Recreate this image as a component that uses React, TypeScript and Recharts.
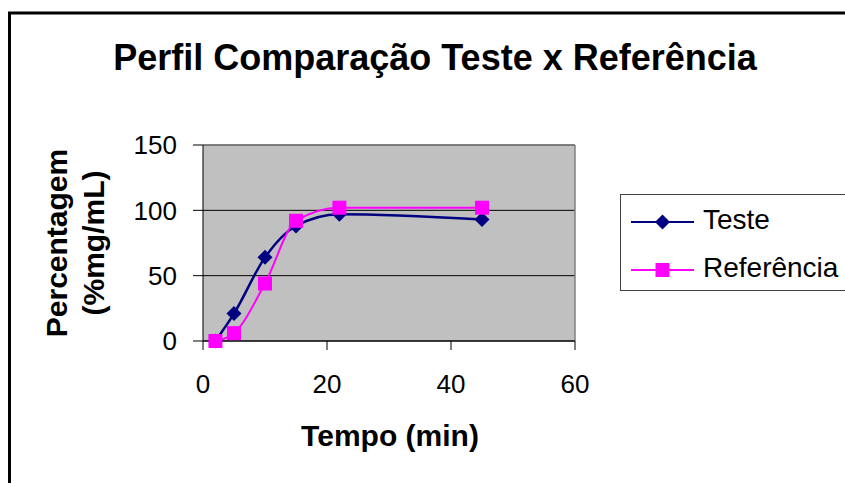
import {
  CartesianGrid, Legend, Line, LineChart, ReferenceLine, XAxis, YAxis,
} from 'recharts';

// dissolution profile: % dissolved per sampling time (min)
const tempos = [2, 5, 10, 15, 22, 45];
const teste = [0, 21, 64, 88, 97, 93];
const referencia = [0, 6, 44, 92, 102, 102];
const xTicks = [0, 20, 40, 60];
const yTicks = [0, 50, 100, 150];
const seriesOrder = ['teste', 'referencia'];

const data = tempos.map((t, i) => ({ t, teste: teste[i], referencia: referencia[i] }));

const FONT = '"Liberation Sans", Arial, Helvetica, sans-serif';
const NAVY = '#000080';
const MAGENTA = '#FF00FF';

function diamondPath(cx: number, cy: number, r: number) {
  return `M${cx},${cy - r}L${cx + r},${cy}L${cx},${cy + r}L${cx - r},${cy}Z`;
}

function DiamondDot(props: any) {
  const { cx, cy, index } = props;
  if (cx == null || cy == null) return <g key={`dd-${index}`} />;
  return <path key={`dd-${index}`} d={diamondPath(cx, cy, 7.5)} fill={NAVY} />;
}

function SquareDot(props: any) {
  const { cx, cy, index } = props;
  if (cx == null || cy == null) return <g key={`sd-${index}`} />;
  return <rect key={`sd-${index}`} x={cx - 7} y={cy - 7} width={14} height={14} fill={MAGENTA} />;
}

function SeriesKey({ payload }: any) {
  const items = [...(payload ?? [])].sort(
    (a: any, b: any) => seriesOrder.indexOf(a.dataKey) - seriesOrder.indexOf(b.dataKey),
  );
  return (
    <div
      style={{
        width: 225, height: 97, boxSizing: 'border-box', background: '#fff',
        borderTop: '1.5px solid #404040', borderLeft: '1.5px solid #404040',
        borderBottom: '1.5px solid #404040',
      }}
    >
      <svg width={223} height={94} style={{ display: 'block' }}>
        {items.map((e: any, i: number) => {
          const y = 27 + i * 48;
          return (
            <g key={e.value}>
              <line x1={10} x2={73} y1={y} y2={y} stroke={e.color} strokeWidth={2} />
              {e.dataKey === 'teste'
                ? <path d={diamondPath(41.5, y, 7.5)} fill={NAVY} />
                : <rect x={34.5} y={y - 7} width={14} height={14} fill={MAGENTA} />}
              <text x={82} y={y + 7} fontSize={28} fontFamily={FONT} fill="#000">{e.value}</text>
            </g>
          );
        })}
      </svg>
    </div>
  );
}

export default function App() {
  return (
    <div style={{ position: 'absolute', left: 0, top: 0, width: 845, height: 483, background: '#fff', fontFamily: FONT }}>
      <LineChart
        width={845}
        height={483}
        data={data}
        margin={{ top: 145, right: 270, bottom: 0, left: 0 }}
        style={{ fontFamily: FONT }}
      >
        <CartesianGrid vertical={false} fill="#C0C0C0" stroke="#000" strokeWidth={1} />
        <XAxis
          dataKey="t"
          type="number"
          domain={[0, 60]}
          ticks={xTicks}
          height={142}
          tickSize={9}
          tickMargin={25}
          stroke="#000"
          tick={{ fontSize: 26, fill: '#000', fontFamily: FONT }}
          interval={0}
        />
        <YAxis
          type="number"
          domain={[0, 150]}
          ticks={yTicks}
          width={203}
          tickSize={10}
          tickMargin={16}
          stroke="#000"
          tick={{ fontSize: 26, fill: '#000', fontFamily: FONT }}
          interval={0}
        />
        <ReferenceLine y={150} stroke="#808080" strokeWidth={1.5} />
        <ReferenceLine x={60} stroke="#808080" strokeWidth={1.5} />
        <Legend
          layout="horizontal"
          verticalAlign="middle"
          align="center"
          content={<SeriesKey />}
          wrapperStyle={{ position: 'absolute', left: 620, top: 194, width: 225, height: 97 }}
        />
        <Line
          type="monotone"
          dataKey="teste"
          name="Teste"
          stroke={NAVY}
          strokeWidth={2.5}
          dot={DiamondDot}
          activeDot={false}
          isAnimationActive={false}
        />
        <Line
          type="monotone"
          dataKey="referencia"
          name="Referência"
          stroke={MAGENTA}
          strokeWidth={2}
          dot={SquareDot}
          activeDot={false}
          isAnimationActive={false}
        />
      </LineChart>

      {/* titles and chart frame */}
      <svg
        width={845}
        height={483}
        style={{ position: 'absolute', left: 0, top: 0, pointerEvents: 'none' }}
      >
        <line x1={9.5} y1={12} x2={9.5} y2={483} stroke="#000" strokeWidth={3} />
        <line x1={8} y1={13} x2={845} y2={13} stroke="#000" strokeWidth={3} />
        <text x={435} y={70} textAnchor="middle" fontSize={36} fontWeight="bold" fontFamily={FONT} fill="#000">
          Perfil Comparação Teste x Referência
        </text>
        <text x={390} y={446} textAnchor="middle" fontSize={30} fontWeight="bold" fontFamily={FONT} fill="#000">
          Tempo (min)
        </text>
        <text
          transform="translate(67,243) rotate(-90)"
          textAnchor="middle"
          fontSize={30}
          fontWeight="bold"
          fontFamily={FONT}
          fill="#000"
        >
          Percentagem
        </text>
        <text
          transform="translate(104,243) rotate(-90)"
          textAnchor="middle"
          fontSize={30}
          fontWeight="bold"
          fontFamily={FONT}
          fill="#000"
        >
          (%mg/mL)
        </text>
      </svg>
    </div>
  );
}
